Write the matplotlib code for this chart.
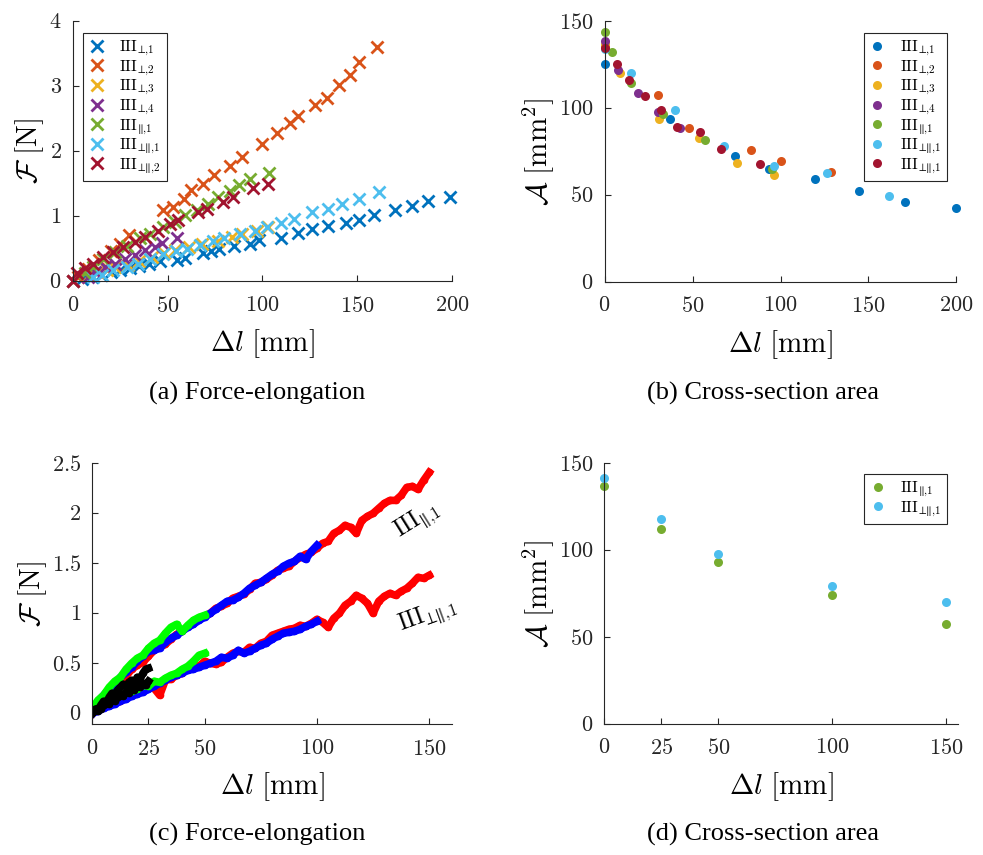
import numpy as np
import matplotlib
matplotlib.use('Agg')
import matplotlib.pyplot as plt

plt.rcParams['mathtext.fontset'] = 'cm'
plt.rcParams['font.family'] = ['Liberation Serif', 'DejaVu Serif']

# MATLAB default colour order
colors = ['#0072BD', '#D95319', '#EDB120', '#7E2F8E', '#77AC30', '#4DBEEE', '#A2142F']

# ---- (a) force-elongation, specimen series ----
labels_a = [r'$\mathrm{III}_{⊥{,}1}$', r'$\mathrm{III}_{⊥{,}2}$', r'$\mathrm{III}_{⊥{,}3}$',
            r'$\mathrm{III}_{⊥{,}4}$', r'$\mathrm{III}_{∥{,}1}$',
            r'$\mathrm{III}_{⊥∥{,}1}$', r'$\mathrm{III}_{⊥∥{,}2}$']

a1_x = [0, 5, 10, 15, 20, 25, 30, 35, 40, 46.0, 54.8, 59.3, 68.5, 72.7, 77.3, 85.0, 93.4, 98.3,
        109.6, 118.9, 126.3, 134.3, 143.8, 151.0, 158.7, 169.8, 178.6, 187.4, 198.8]
a1_y = [0, 0.03, 0.07, 0.10, 0.14, 0.17, 0.20, 0.23, 0.27, 0.31, 0.33, 0.36, 0.43, 0.47, 0.50, 0.54,
        0.58, 0.63, 0.67, 0.75, 0.80, 0.85, 0.90, 0.95, 1.02, 1.09, 1.16, 1.23, 1.30]
a2_x = [0, 3, 8, 14, 20, 25, 29.7, 47.7, 53.0, 58.6, 62.3, 68.5, 74.4, 82.9, 89.0, 99.9, 107.5,
        114.5, 118.5, 127.7, 133.8, 140.5, 146.1, 151.0, 160.2]
a2_y = [0, 0.07, 0.19, 0.33, 0.47, 0.58, 0.71, 1.09, 1.14, 1.26, 1.40, 1.50, 1.63, 1.78, 1.92, 2.11,
        2.28, 2.44, 2.54, 2.72, 2.82, 3.02, 3.17, 3.37, 3.60]
a3_x = [8, 13.5, 18, 22.3, 29.3, 35, 42, 48, 53.9, 61.4, 68.0, 76.7, 83.8, 89.0, 96.9, 103.1]
a3_y = [0.08, 0.14, 0.18, 0.22, 0.25, 0.32, 0.38, 0.44, 0.48, 0.53, 0.58, 0.62, 0.68, 0.73, 0.78, 0.84]
a4_x = [8.0, 11.7, 17.0, 22.3, 27.5, 32.9, 38.1, 43.4, 46.9, 54.8]
a4_y = [0.07, 0.14, 0.22, 0.27, 0.35, 0.40, 0.48, 0.53, 0.59, 0.67]
a5_x = [6.5, 10.9, 16.1, 22.3, 28.5, 35.5, 40.7, 47.7, 53.9, 59.2, 65.3, 71.4, 76.7, 82.9, 87.6,
        93.4, 103.6]
a5_y = [0.12, 0.22, 0.35, 0.45, 0.55, 0.66, 0.73, 0.84, 0.91, 1.02, 1.09, 1.19, 1.30, 1.39, 1.48,
        1.57, 1.66]
a6_x = [10.9, 15.3, 21.4, 28.5, 34.6, 40.7, 47.7, 54.3, 60.1, 67.1, 74.1, 79.9, 88.1, 96.1, 102.2,
        109.6, 116.8, 125.9, 134.7, 141.7, 151.0, 161.4]
a6_y = [0.07, 0.09, 0.17, 0.22, 0.27, 0.35, 0.42, 0.47, 0.50, 0.56, 0.62, 0.67, 0.73, 0.78, 0.84,
        0.90, 0.96, 1.06, 1.12, 1.19, 1.27, 1.38]
a7_x = [0, 2.1, 6.5, 10.9, 16.1, 21.4, 26.7, 32.8, 38.1, 45.1, 51.3, 55.6, 66.2, 70.6, 79.4, 84.6,
        95.2, 103.1]
a7_y = [0, 0.12, 0.20, 0.27, 0.37, 0.45, 0.53, 0.60, 0.68, 0.78, 0.88, 0.94, 1.06, 1.12, 1.22, 1.29,
        1.43, 1.49]
a_x = [a1_x, a2_x, a3_x, a4_x, a5_x, a6_x, a7_x]
a_y = [a1_y, a2_y, a3_y, a4_y, a5_y, a6_y, a7_y]

# ---- (b) cross-section area ----
labels_b = labels_a[:6] + [r'$\mathrm{III}_{⊥∥{,}1}$']
b1_x = [0, 37.3, 74.2, 93.6, 119.6, 144.7, 170.8, 200]
b1_y = [125.7, 94.0, 72.3, 65.2, 59.1, 52.2, 46.0, 42.2]
b2_x = [0, 30.1, 48.2, 83.3, 100.3, 128.7]
b2_y = [136, 107.6, 88.6, 75.8, 69.4, 63.3]
b3_x = [0, 8.9, 31.0, 53.9, 75.5, 96.5]
b3_y = [137, 120.3, 93.6, 82.9, 68.5, 61.4]
b4_x = [0, 7.9, 19.0, 30.6, 43.0]
b4_y = [138.7, 121.8, 108.8, 97.5, 88.6]
b5_x = [0, 4.2, 15.0, 33.1, 57.2, 95.4]
b5_y = [143.9, 132.3, 114.5, 96.5, 81.9, 64.7]
b6_x = [0, 15.0, 40.1, 68.1, 96.5, 126.2, 161.7]
b6_y = [134, 120.5, 98.8, 78.3, 66.7, 62.4, 49.3]
b7_x = [0, 7.0, 14.0, 23.1, 32.0, 41.1, 54.3, 66.2, 88.4]
b7_y = [134.6, 125.6, 116.1, 107.0, 98.8, 89.2, 86.0, 76.3, 67.7]
b_x = [b1_x, b2_x, b3_x, b4_x, b5_x, b6_x, b7_x]
b_y = [b1_y, b2_y, b3_y, b4_y, b5_y, b6_y, b7_y]

# ---- (c) force-elongation, continuous recordings (sampled every 2.5 / 1.25 mm) ----
red_up = [0.00, 0.09, 0.15, 0.22, 0.27, 0.33, 0.37, 0.44, 0.48, 0.51, 0.57, 0.63, 0.66, 0.69, 0.74,
          0.79, 0.82, 0.87, 0.90, 0.95, 0.97, 1.00, 1.05, 1.07, 1.10, 1.15, 1.17, 1.19, 1.24, 1.30,
          1.31, 1.34, 1.38, 1.43, 1.45, 1.47, 1.52, 1.56, 1.59, 1.61, 1.65, 1.70, 1.72, 1.80, 1.83,
          1.88, 1.86, 1.80, 1.93, 1.97, 2.00, 2.05, 2.10, 2.13, 2.13, 2.18, 2.26, 2.27, 2.24, 2.33, 2.41]
red_lo = [0.00, 0.03, 0.06, 0.08, 0.11, 0.12, 0.16, 0.19, 0.20, 0.22, 0.27, 0.25, 0.18, 0.33, 0.34,
          0.38, 0.40, 0.44, 0.48, 0.47, 0.52, 0.50, 0.49, 0.51, 0.56, 0.60, 0.62, 0.61, 0.66, 0.65,
          0.70, 0.72, 0.78, 0.80, 0.82, 0.84, 0.85, 0.88, 0.87, 0.90, 0.94, 0.91, 0.86, 0.95, 1.00,
          1.08, 1.12, 1.18, 1.15, 1.10, 1.00, 1.12, 1.17, 1.20, 1.18, 1.22, 1.25, 1.30, 1.36, 1.35, 1.38]
blue_up = [0.00, 0.12, 0.18, 0.24, 0.29, 0.36, 0.41, 0.46, 0.52, 0.57, 0.62, 0.63, 0.65, 0.71, 0.75,
           0.78, 0.82, 0.86, 0.89, 0.93, 0.96, 1.00, 1.04, 1.08, 1.12, 1.13, 1.16, 1.20, 1.25, 1.28,
           1.31, 1.35, 1.39, 1.42, 1.47, 1.50, 1.52, 1.57, 1.54, 1.62, 1.68]
blue_lo = [0.00, 0.02, 0.05, 0.07, 0.09, 0.12, 0.14, 0.17, 0.19, 0.21, 0.24, 0.27, 0.30, 0.33, 0.36,
           0.38, 0.40, 0.43, 0.44, 0.46, 0.48, 0.50, 0.52, 0.56, 0.55, 0.58, 0.63, 0.60, 0.62, 0.65,
           0.68, 0.70, 0.74, 0.77, 0.80, 0.81, 0.82, 0.84, 0.87, 0.89, 0.92]
green_up = [0.05, 0.13, 0.18, 0.26, 0.32, 0.36, 0.44, 0.50, 0.55, 0.58, 0.65, 0.70, 0.73, 0.80, 0.86,
            0.89, 0.82, 0.88, 0.93, 0.96, 0.98]
green_lo = [0.02, 0.06, 0.10, 0.12, 0.14, 0.18, 0.20, 0.22, 0.24, 0.28, 0.27, 0.32, 0.31, 0.35, 0.38,
            0.40, 0.44, 0.47, 0.52, 0.58, 0.60]
black_up = [0.00, 0.04, 0.02, 0.08, 0.12, 0.10, 0.16, 0.20, 0.18, 0.23, 0.26, 0.29, 0.27, 0.31, 0.33,
            0.30, 0.36, 0.34, 0.40, 0.44, 0.45]
black_lo = [0.00, 0.03, 0.05, 0.04, 0.08, 0.10, 0.09, 0.13, 0.12, 0.16, 0.18, 0.17, 0.21, 0.20, 0.24,
            0.23, 0.27, 0.26, 0.30, 0.28, 0.32]

# ---- (d) cross-section area at fixed elongations ----
d_x = [0, 25, 50, 100, 150]
d_par = [137.1, 112.0, 93.2, 74.0, 57.4]
d_perpar = [141.4, 118.0, 97.6, 79.4, 70.0]

TICK = 16
LAB = 21


def style(ax, xt, yt, xlim, ylim, ylab):
    ax.spines['top'].set_visible(False)
    ax.spines['right'].set_visible(False)
    for s in ['left', 'bottom']:
        ax.spines[s].set_color('#262626')
        ax.spines[s].set_linewidth(0.8)
    ax.set_xlim(*xlim)
    ax.set_ylim(*ylim)
    ax.set_xticks(xt, [f'${t}$' for t in xt])
    ax.set_yticks(yt, [f'${t}$' for t in yt])
    ax.tick_params(direction='in', length=4, labelsize=TICK, colors='#262626', pad=8)
    ax.tick_params(axis='x', pad=11)
    ax.set_xlabel(r'$\Delta l\ [\mathrm{mm}]$', fontsize=LAB, labelpad=8)
    ax.set_ylabel(ylab, fontsize=LAB, labelpad=2)


def leg(ax, loc, anchor):
    lg = ax.legend(loc=loc, bbox_to_anchor=anchor, borderaxespad=0, fontsize=11.5,
                   fancybox=False, edgecolor='#262626', framealpha=1, handlelength=1.0,
                   handletextpad=0.9, labelspacing=0.02, borderpad=0.35)
    lg.get_frame().set_linewidth(0.8)


fig = plt.figure(figsize=(9.83, 8.55), dpi=100)
axa = fig.add_axes([0.074, 0.671, 0.386, 0.304])
axb = fig.add_axes([0.615, 0.6705, 0.358, 0.3045])
axc = fig.add_axes([0.0939, 0.1529, 0.3656, 0.3051])
axd = fig.add_axes([0.6147, 0.1532, 0.3596, 0.3049])

# (a)
for x, y, c, l in zip(a_x, a_y, colors, labels_a):
    axa.plot(x, y, 'x', color=c, ms=8, mew=2, label=l, clip_on=False)
style(axa, [0, 50, 100, 150, 200], [0, 1, 2, 3, 4], (0, 200), (0, 4), r'$\mathcal{F}\ [\mathrm{N}]$')
leg(axa, 'upper left', (0.028, 0.954))

# (b)
for x, y, c, l in zip(b_x, b_y, colors, labels_b):
    axb.plot(x, y, 'o', color=c, ms=6.5, mec='none', label=l, clip_on=False)
style(axb, [0, 50, 100, 150, 200], [0, 50, 100, 150], (0, 200), (0, 150),
      r'$\mathcal{A}\ [\mathrm{mm}^2]$')
leg(axb, 'upper right', (0.972, 0.954))

# (c)
x25 = np.arange(0, 150.1, 2.5)
x125 = np.arange(0, 25.01, 1.25)
kw = dict(marker='.', ms=9, lw=5.5, solid_joinstyle='round')
for yy in (red_up, red_lo):
    axc.plot(x25[:len(yy)], yy, color='#ff0000', **kw)
for yy in (blue_up, blue_lo):
    axc.plot(x25[:len(yy)], yy, color='#0000ff', **kw)
for yy in (green_up, green_lo):
    axc.plot(x25[:len(yy)], yy, color='#00ff00', **kw)
for yy in (black_up, black_lo):
    axc.plot(x125[:len(yy)], yy, color='black', **kw)
axc.text(144.7, 1.93, r'$\mathrm{III}_{∥{,}1}$', fontsize=17, rotation=32,
         ha='center', va='center')
axc.text(149.1, 0.98, r'$\mathrm{III}_{⊥∥{,}1}$', fontsize=17, rotation=20,
         ha='center', va='center')
style(axc, [0, 25, 50, 100, 150], [0, 0.5, 1, 1.5, 2, 2.5], (0, 160), (-0.11, 2.5),
      r'$\mathcal{F}\ [\mathrm{N}]$')

# (d)
axd.plot(d_x, d_par, 'o', color=colors[4], ms=6.5, mec='none', label=labels_a[4], clip_on=False)
axd.plot(d_x, d_perpar, 'o', color=colors[5], ms=6.5, mec='none', label=labels_a[5], clip_on=False)
style(axd, [0, 25, 50, 100, 150], [0, 50, 100, 150], (0, 155), (0, 150),
      r'$\mathcal{A}\ [\mathrm{mm}^2]$')
leg(axd, 'upper right', (0.969, 0.958))

# captions
fig.text(0.262, 0.540, '(a) Force-elongation', ha='center', va='center', fontsize=19)
fig.text(0.776, 0.540, '(b) Cross-section area', ha='center', va='center', fontsize=19)
fig.text(0.262, 0.024, '(c) Force-elongation', ha='center', va='center', fontsize=19)
fig.text(0.776, 0.024, '(d) Cross-section area', ha='center', va='center', fontsize=19)

fig.savefig('out.png', dpi=100)
